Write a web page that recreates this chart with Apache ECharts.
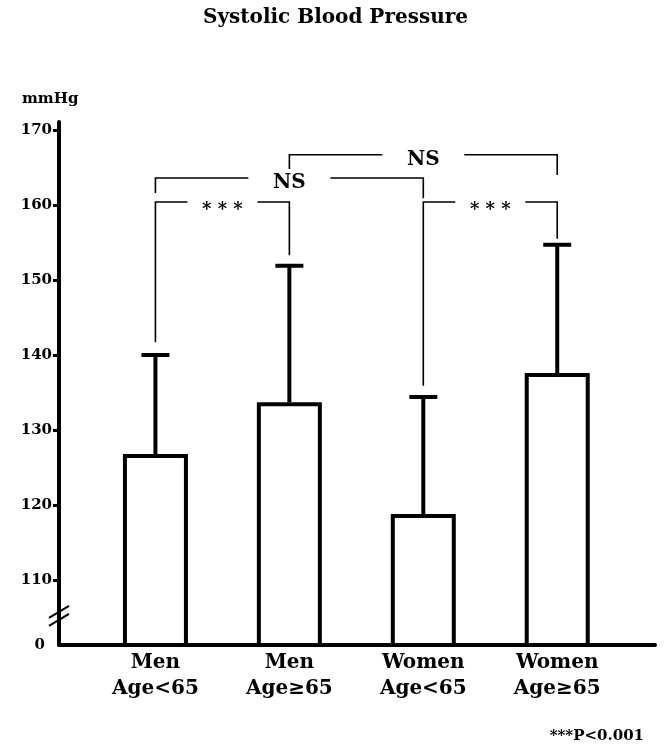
<!DOCTYPE html>
<html><head><meta charset="utf-8">
<script src="https://cdn.jsdelivr.net/npm/echarts@6/dist/echarts.min.js"></script>
<style>html,body{margin:0;padding:0;background:#fff}#c{width:671px;height:750px}</style>
</head><body><div id="c"></div>
<script>
// ---- data ----
const categories = ['Men\nAge<65', 'Men\nAge≥65', 'Women\nAge<65', 'Women\nAge≥65'];
const meanValues = [126.8, 133.7, 118.8, 137.6];
const sdUpperValues = [140.0, 151.9, 134.4, 154.7];
const yTickValues = [110, 120, 130, 140, 150, 160, 170];
const yAxisMin = 101.33;   // broken axis origin, labelled "0"
const yAxisMax = 171.07;
const breakValue = 105.2;
// significance brackets
const bracketFrom = [0, 0, 1, 2];
const bracketTo = [1, 2, 3, 3];
const bracketLevel = [160.4, 163.6, 166.7, 160.4];
const bracketLeftEnd = [141.7, 161.6, 164.8, 135.9];
const bracketRightEnd = [153.3, 160.9, 164.0, 155.5];
const bracketLabels = ['* * *', 'NS', 'NS', '* * *'];

const SERIF = '"DejaVu Serif", "Liberation Serif", serif';
const chart = echarts.init(document.getElementById('c'), null, {renderer: 'canvas'});

const barData = meanValues.map((v, i) => [i, v]);
const errData = meanValues.map((v, i) => [i, v, sdUpperValues[i]]);
const brData = bracketFrom.map((f, i) => [f, bracketTo[i], bracketLevel[i], bracketLeftEnd[i], bracketRightEnd[i]]);

chart.setOption({
  animation: false,
  backgroundColor: '#fff',
  title: [
    {text: 'Systolic Blood Pressure', left: 'center', top: 3,
     textStyle: {fontFamily: SERIF, fontWeight: 'bold', fontSize: 20, color: '#000'}},
    {text: 'mmHg', left: 17, top: 87,
     textStyle: {fontFamily: SERIF, fontWeight: 'bold', fontSize: 15, color: '#000'}},
    {text: '***P<0.001', right: 22, top: 724,
     textStyle: {fontFamily: SERIF, fontWeight: 'bold', fontSize: 15, color: '#000'}}
  ],
  grid: {left: 59, right: 16, top: 122, bottom: 105, containLabel: false},
  xAxis: {
    type: 'value', min: -0.72, max: 3.73,
    splitLine: {show: false},
    axisTick: {show: false},
    axisLine: {onZero: false, lineStyle: {color: '#000', width: 4}},
    axisLabel: {
      customValues: [0, 1, 2, 3],
      margin: 5,
      formatter: v => categories[Math.round(v)],
      fontFamily: SERIF, fontWeight: 'bold', fontSize: 20, lineHeight: 26, color: '#000'
    }
  },
  yAxis: {
    type: 'value', min: yAxisMin, max: yAxisMax,
    splitLine: {show: false},
    axisLine: {onZero: false, lineStyle: {color: '#000', width: 4}},
    axisTick: {customValues: yTickValues, length: 6, lineStyle: {color: '#000', width: 3}},
    axisLabel: {
      customValues: [yAxisMin].concat(yTickValues),
      margin: 7,
      formatter: v => (Math.abs(v - yAxisMin) < 1e-6 ? '{z|0}' : String(v)),
      fontFamily: SERIF, fontWeight: 'bold', fontSize: 15, color: '#000',
      rich: {z: {fontFamily: SERIF, fontWeight: 'bold', fontSize: 15, color: '#000', padding: [0, 7, 0, 0]}}
    }
  },
  series: [
    {
      type: 'bar', data: barData, barWidth: 65, clip: true,
      itemStyle: {color: '#fff', borderColor: '#000', borderWidth: 4},
      z: 2
    },
    {
      type: 'custom', data: errData, z: 3,
      encode: {x: 0, y: [1, 2]},
      renderItem: (params, api) => {
        const p0 = api.coord([api.value(0), api.value(1)]);
        const p1 = api.coord([api.value(0), api.value(2)]);
        return {type: 'group', children: [
          {type: 'line', shape: {x1: p0[0], y1: p0[1], x2: p1[0], y2: p1[1]},
           style: {stroke: '#000', lineWidth: 4}},
          {type: 'line', shape: {x1: p1[0] - 14, y1: p1[1], x2: p1[0] + 14, y2: p1[1]},
           style: {stroke: '#000', lineWidth: 4}}
        ]};
      }
    },
    {
      type: 'custom', data: brData, z: 4,
      encode: {x: [0, 1], y: [2, 3, 4]},
      renderItem: (params, api) => {
        const i = params.dataIndex;
        const lbl = bracketLabels[i];
        const L0 = api.coord([api.value(0), api.value(3)]);
        const L1 = api.coord([api.value(0), api.value(2)]);
        const R1 = api.coord([api.value(1), api.value(2)]);
        const R0 = api.coord([api.value(1), api.value(4)]);
        const mid = (L1[0] + R1[0]) / 2;
        const isNS = lbl === 'NS';
        const gap = isNS ? 82 : 70;
        return {type: 'group', children: [
          {type: 'polyline', shape: {points: [[L0[0], L0[1]], [L1[0], L1[1]], [mid - gap / 2, L1[1]]]},
           style: {stroke: '#000', lineWidth: 1.6, fill: null}},
          {type: 'polyline', shape: {points: [[mid + gap / 2, R1[1]], [R1[0], R1[1]], [R0[0], R0[1]]]},
           style: {stroke: '#000', lineWidth: 1.6, fill: null}},
          {type: 'text', x: mid, y: L1[1] + (isNS ? 5 : 8),
           style: {text: lbl, align: 'center', verticalAlign: 'middle',
                   fontFamily: SERIF, fontWeight: 'bold', fontSize: isNS ? 20 : 18, fill: '#000'}}
        ]};
      }
    },
    {
      type: 'custom', data: [[-0.72, breakValue]], z: 5,
      renderItem: (params, api) => {
        const p = api.coord([api.value(0), api.value(1)]);
        return {type: 'group', children: [
          {type: 'line', shape: {x1: p[0] - 10, y1: p[1] + 2, x2: p[0] + 10, y2: p[1] - 10},
           style: {stroke: '#000', lineWidth: 2}},
          {type: 'line', shape: {x1: p[0] - 10, y1: p[1] + 10, x2: p[0] + 10, y2: p[1] - 2},
           style: {stroke: '#000', lineWidth: 2}}
        ]};
      }
    }
  ]
});
</script>
</body></html>
